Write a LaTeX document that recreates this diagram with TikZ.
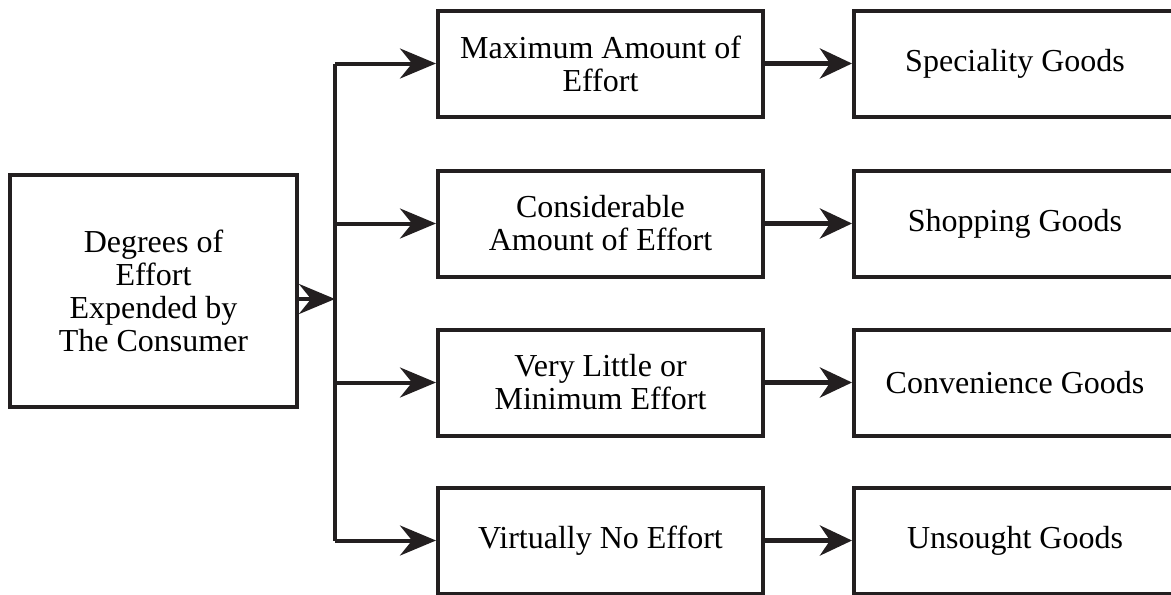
\documentclass[tikz,border=0pt]{standalone}
\usepackage{fontspec}
\setmainfont{Liberation Serif}
\usetikzlibrary{arrows.meta}
\definecolor{ink}{HTML}{231F20}

\begin{document}
\begin{tikzpicture}[x=0.5pt,y=-0.5pt]
        \tikzstyle{every node}=[font=\fontsize{16}{16.5}\selectfont, align=center]
        \tikzstyle{box}=[draw=ink, line width=2pt, inner sep=0pt]
        \tikzstyle{degree}=[box, minimum width=162.5pt, minimum height=53pt]
        \tikzstyle{goods}=[box, minimum width=161pt, minimum height=53pt]
        \tikzstyle{branch}=[draw=ink, line width=2pt, -{Stealth[length=18pt,width=15pt,inset=6pt]}]
        \tikzstyle{link}=[draw=ink, line width=2.5pt, -{Stealth[length=16pt,width=15pt,inset=5pt]}]
        \clip (0,0) rectangle (1171,594);

        \node[box, minimum width=143.5pt, minimum height=116pt] (consumer) at (153.5, 291)
            {Degrees of\\Effort\\Expended by\\The Consumer};

        \node[degree] (maximum) at (600.5, 63.5) {Maximum Amount of\\Effort};
        \node[degree] (considerable) at (600.5, 223.5) {Considerable\\Amount of Effort};
        \node[degree] (minimum) at (600.5, 382.5) {Very Little or\\Minimum Effort};
        \node[degree] (none) at (600.5, 540.5) {Virtually No Effort};

        \node[goods] (speciality) at (1015, 63.5) {Speciality Goods};
        \node[goods] (shopping) at (1015, 223.5) {Shopping Goods};
        \node[goods] (convenience) at (1015, 382.5) {Convenience Goods};
        \node[goods] (unsought) at (1015, 540.5) {Unsought Goods};

        % trunk
        \coordinate (hub) at (335, 299);
        \coordinate (top) at (335, 63.5);
        \coordinate (bottom) at (335, 540.5);
        \draw[draw=ink, line width=2pt] (top) -- (bottom);
        \draw[branch] (consumer.east |- hub) -- (hub);

        \draw[branch] (top) -- (maximum.west);
        \draw[branch] (considerable.west -| top) -- (considerable.west);
        \draw[branch] (minimum.west -| top) -- (minimum.west);
        \draw[branch] (bottom) -- (none.west);

        \draw[link] (maximum.east) -- (speciality.west);
        \draw[link] (considerable.east) -- (shopping.west);
        \draw[link] (minimum.east) -- (convenience.west);
        \draw[link] (none.east) -- (unsought.west);
    \end{tikzpicture}
\end{document}
